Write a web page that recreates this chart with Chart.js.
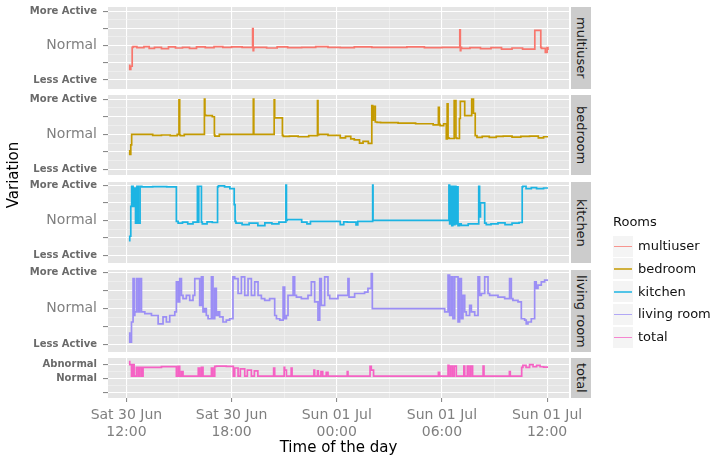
<!DOCTYPE html>
<html>
<head>
<meta charset="utf-8">
<script src="https://cdn.jsdelivr.net/npm/chart.js@4/dist/chart.umd.min.js"></script>
<style>
body{margin:0;background:#fff;font-family:"DejaVu Sans",sans-serif;}
#wrap{position:relative;width:716px;height:457px;overflow:hidden;background:#fff;}
#wrap canvas{position:absolute;left:0;}
.strip{position:absolute;left:571px;width:20px;background:#CCCCCC;display:flex;align-items:center;justify-content:center;}
.strip span{writing-mode:vertical-rl;font-size:13px;color:#1a1a1a;white-space:nowrap;}
.title{position:absolute;font-size:15px;color:#000;text-align:center;line-height:18px;white-space:nowrap;}
.legend-title{position:absolute;left:613px;top:213px;font-size:13px;line-height:18px;color:#111;}
.key{position:absolute;left:613px;width:20px;height:21px;background:#F4F4F4;}
.key i{position:absolute;left:1px;right:1px;top:10px;height:1.6px;}
.lab{position:absolute;left:638px;font-size:13px;line-height:18px;color:#111;white-space:nowrap;}
</style>
</head>
<body>
<div id="wrap"></div>
<script>
// facets, top to bottom
const roomNames = ['multiuser', 'bedroom', 'kitchen', 'living room', 'total'];
const roomColors = ['#F8766D', '#C49A00', '#1CB4E3', '#9B8EF5', '#F562C4'];

// x axis: hours since Sat 30 Jun 00:00
const hourTicks = [12, 15, 18, 21, 24, 27, 30, 33, 36];
const majorHours = [12, 18, 24, 30, 36];
const dayLabels = ['Sat 30 Jun', 'Sat 30 Jun', 'Sun 01 Jul', 'Sun 01 Jul', 'Sun 01 Jul'];
const timeLabels = ['12:00', '18:00', '00:00', '06:00', '12:00'];

// y levels at -1, 0, 1
const roomLevels = ['Less Active', 'Normal', 'More Active'];
const totalLevels = ['', 'Normal', 'Abnormal'];

// [hour, variation]
const multiuser = [[12.19,-0.55],[12.25,-0.69],[12.33,-0.6],[12.38,-0.05],[12.6,-0.03],[13.0,-0.06],[13.3,-0.03],[13.6,-0.08],[14.0,-0.05],[14.4,-0.09],[14.8,-0.04],[15.2,-0.07],[15.6,-0.05],[16.0,-0.08],[16.5,-0.04],[17.0,-0.06],[17.5,-0.03],[18.0,-0.05],[18.6,-0.04],[19.2,-0.05],[19.23,0.49],[19.26,-0.15],[19.3,-0.06],[20.0,-0.05],[20.6,-0.07],[21.2,-0.04],[22.0,-0.06],[22.8,-0.05],[23.5,-0.03],[24.2,-0.05],[25.0,-0.06],[26.0,-0.04],[27.0,-0.05],[28.0,-0.05],[29.0,-0.04],[30.0,-0.06],[31.02,-0.05],[31.05,0.46],[31.08,-0.15],[31.12,-0.05],[31.6,-0.08],[32.2,-0.06],[32.8,-0.09],[33.4,-0.06],[34.0,-0.1],[34.6,-0.07],[35.3,-0.1],[35.34,0.44],[35.64,0.44],[35.68,-0.05],[35.9,-0.08],[36.0,-0.2],[36.05,-0.06],[36.1,-0.1]];

const bedroom = [[12.19,-0.45],[12.25,-0.57],[12.3,-0.3],[12.32,0.0],[13.5,0.0],[14.0,-0.03],[14.5,-0.02],[14.9,-0.04],[15.0,0.0],[15.04,0.98],[15.08,-0.02],[15.3,-0.04],[15.5,0.0],[16.45,0.0],[16.48,1.0],[16.52,0.55],[16.9,0.53],[17.02,0.5],[17.05,-0.02],[17.3,-0.05],[17.6,0.0],[19.24,0.0],[19.27,1.0],[19.3,0.0],[20.43,0.0],[20.46,0.98],[20.5,0.47],[20.9,0.47],[20.95,-0.03],[21.3,-0.06],[21.8,-0.05],[22.4,-0.07],[22.9,-0.04],[22.93,0.96],[22.97,-0.02],[23.5,0.0],[24.2,-0.03],[24.5,-0.1],[24.8,-0.06],[25.0,-0.13],[25.3,-0.16],[25.5,-0.25],[25.8,-0.2],[26.0,-0.26],[26.05,0.82],[26.1,0.4],[26.2,0.8],[26.3,0.35],[26.5,0.34],[27.5,0.33],[28.5,0.32],[29.5,0.3],[29.8,0.27],[29.85,0.77],[29.9,0.28],[30.1,0.25],[30.25,0.3],[30.3,-0.13],[30.35,0.87],[30.4,-0.1],[30.7,-0.12],[30.8,0.96],[30.85,-0.1],[31.0,-0.12],[31.05,0.45],[31.3,0.94],[31.35,0.53],[31.7,0.53],[31.8,1.0],[31.9,0.6],[32.0,-0.04],[32.3,-0.09],[32.7,-0.06],[33.1,-0.09],[33.5,-0.06],[34.0,-0.05],[34.5,-0.08],[35.0,-0.06],[35.5,-0.05],[35.8,-0.1],[36.05,-0.07]];

const kitchen = [[12.19,-0.6],[12.25,-0.45],[12.3,0.4],[12.38,0.97],[12.45,0.4],[12.52,0.92],[12.6,-0.08],[12.68,0.97],[12.78,-0.08],[12.88,0.97],[13.5,0.95],[14.3,0.96],[14.85,0.95],[14.95,-0.03],[15.2,-0.08],[15.5,-0.05],[15.8,-0.1],[16.05,-0.05],[16.09,0.97],[16.13,-0.05],[16.28,0.97],[16.33,-0.05],[16.6,-0.1],[16.9,-0.04],[17.2,-0.06],[17.25,0.95],[17.6,0.98],[17.9,0.95],[18.15,0.9],[18.2,0.45],[18.25,-0.03],[18.6,-0.08],[19.0,-0.12],[19.5,-0.08],[19.9,-0.15],[20.3,-0.07],[20.7,-0.1],[21.1,-0.05],[21.13,1.0],[21.17,0.0],[22.0,0.02],[22.3,-0.05],[22.5,-0.1],[22.7,-0.03],[23.5,-0.03],[24.2,-0.03],[24.4,-0.12],[24.6,-0.04],[25.1,-0.05],[25.2,-0.13],[25.4,-0.03],[26.05,-0.03],[26.07,1.0],[26.1,0.0],[28.0,0.0],[30.4,0.0],[30.44,1.0],[30.5,-0.1],[30.56,0.97],[30.62,-0.15],[30.68,0.97],[30.74,-0.12],[30.8,0.97],[30.86,-0.1],[30.92,0.95],[31.0,-0.15],[31.1,-0.1],[31.5,-0.14],[32.1,-0.1],[32.15,0.97],[32.2,0.1],[32.44,0.5],[32.53,-0.08],[32.8,-0.12],[33.2,-0.1],[33.6,-0.07],[34.0,-0.12],[34.4,-0.08],[34.58,-0.06],[34.62,0.95],[34.8,0.97],[35.1,0.9],[35.4,0.93],[35.8,0.9],[36.05,0.92]];

const livingRoom = [[12.19,-0.65],[12.29,-0.93],[12.38,-0.37],[12.44,0.83],[12.48,-0.19],[12.57,-0.09],[12.67,0.83],[12.76,-0.09],[12.86,0.83],[12.95,-0.09],[13.05,-0.09],[13.43,-0.14],[13.81,-0.19],[14.09,-0.42],[14.28,-0.23],[14.47,-0.37],[14.76,-0.19],[14.85,-0.09],[14.95,0.74],[15.04,0.19],[15.14,0.83],[15.23,0.37],[15.42,0.28],[15.61,0.37],[15.8,0.23],[15.9,0.37],[16.18,0.83],[16.28,0.09],[16.37,0.88],[16.47,-0.09],[16.56,0.0],[16.66,-0.19],[16.85,-0.28],[16.94,0.88],[17.04,-0.28],[17.13,0.56],[17.23,-0.19],[17.32,-0.09],[17.51,-0.23],[17.7,-0.37],[17.89,-0.32],[18.08,-0.28],[18.18,0.88],[18.37,0.83],[18.56,0.42],[18.75,0.88],[18.94,0.37],[19.13,0.83],[19.32,0.37],[19.51,0.74],[19.7,0.37],[19.89,0.28],[20.17,0.23],[20.46,0.28],[20.56,-0.19],[20.75,-0.28],[20.94,-0.32],[21.03,0.6],[21.13,-0.28],[21.22,-0.19],[21.32,0.37],[21.51,0.37],[21.6,0.88],[21.7,0.37],[21.98,0.32],[22.36,0.28],[22.55,0.37],[22.74,0.74],[22.93,0.19],[23.03,-0.32],[23.12,0.83],[23.31,0.09],[23.5,0.88],[23.6,0.37],[23.79,0.28],[24.07,0.28],[24.64,0.37],[24.7,0.83],[24.74,0.32],[25.02,0.32],[25.59,0.42],[25.78,0.46],[25.97,0.56],[26.03,0.97],[26.13,0.0],[30.16,0.0],[30.25,-0.09],[30.35,-0.09],[30.44,0.93],[30.54,-0.19],[30.63,0.88],[30.73,-0.28],[30.92,0.88],[31.01,-0.37],[31.11,0.83],[31.2,-0.28],[31.3,0.37],[31.39,-0.09],[31.58,-0.19],[31.68,0.09],[31.87,-0.09],[32.06,-0.19],[32.15,0.88],[32.25,0.37],[32.44,0.42],[32.63,0.88],[32.72,0.42],[33.2,0.37],[33.58,0.32],[33.86,0.28],[33.96,0.83],[34.05,0.28],[34.34,0.23],[34.53,0.19],[34.72,-0.28],[34.81,-0.32],[34.91,-0.42],[35.1,-0.37],[35.29,-0.28],[35.38,0.74],[35.48,0.56],[35.67,0.65],[35.86,0.74],[36.05,0.79]];

const total = [[12.19,1.29],[12.29,1.0],[12.38,0.17],[12.44,1.0],[12.57,0.17],[12.67,0.8],[12.76,0.17],[12.86,0.8],[12.95,0.17],[13.05,0.81],[14.0,0.8],[14.85,0.86],[14.95,0.17],[15.04,0.88],[15.14,0.17],[15.23,0.5],[15.3,0.17],[16.1,0.17],[16.18,0.75],[16.28,0.17],[16.37,0.8],[16.47,0.17],[16.85,0.17],[16.94,0.75],[17.04,0.17],[17.13,0.88],[17.7,0.9],[18.1,0.88],[18.18,0.17],[18.37,0.76],[18.5,0.17],[18.75,0.7],[18.9,0.17],[19.13,0.6],[19.3,0.17],[19.5,0.55],[19.6,0.17],[20.4,0.17],[20.46,0.76],[20.52,0.17],[21.0,0.17],[21.03,0.8],[21.13,0.6],[21.2,0.17],[21.4,0.17],[21.45,0.76],[21.5,0.17],[22.7,0.17],[22.74,0.6],[22.9,0.17],[22.95,0.55],[23.1,0.17],[23.2,0.5],[23.4,0.17],[23.5,0.45],[23.6,0.17],[24.6,0.17],[24.64,0.5],[24.7,0.17],[25.9,0.17],[25.97,0.88],[26.1,0.6],[26.13,0.17],[29.8,0.17],[29.87,0.45],[29.93,0.17],[30.35,0.17],[30.4,0.95],[30.5,0.17],[30.6,0.9],[30.7,0.17],[30.82,0.9],[30.95,0.17],[31.25,0.17],[31.3,0.9],[31.45,0.17],[31.55,0.9],[31.65,0.17],[31.75,0.9],[31.85,0.17],[32.35,0.17],[32.4,0.9],[32.5,0.17],[33.85,0.17],[33.9,0.5],[33.95,0.17],[34.55,0.17],[34.62,0.8],[34.8,0.95],[35.0,0.8],[35.2,1.0],[35.4,0.85],[35.6,0.95],[35.8,0.85],[36.05,0.83]];

const series = [multiuser, bedroom, kitchen, livingRoom, total];

// panel geometry (px) and y limits
const FONT = '"DejaVu Sans", sans-serif';
const PANEL_LEFT = 108, PANEL_RIGHT = 569, CANVAS_W = 600, PAD = 12, X_AXIS_H = 46;
const X_MIN = 10.95, X_MAX = 37.25;
const panels = [
    {top: 7,   bottom: 89,  min: -1.26, max: 1.12},
    {top: 95,  bottom: 175, min: -1.16, max: 1.12},
    {top: 182, bottom: 263, min: -1.21, max: 1.09},
    {top: 270, bottom: 352, min: -1.2,  max: 1.07},
    {top: 358, bottom: 398, min: -1.4,  max: 1.48}
];

const wrap = document.getElementById('wrap');

const panelBg = {
    id: 'panelBg',
    beforeDraw(chart) {
        const a = chart.chartArea, c = chart.ctx;
        c.save();
        c.fillStyle = '#E5E5E5';
        c.fillRect(a.left, a.top, a.right - a.left, a.bottom - a.top);
        c.restore();
    }
};

function near(v, step) { return Math.abs(v / step - Math.round(v / step)) < 1e-6; }

function makePanel(i) {
    const P = panels[i];
    const last = i === series.length - 1;
    const h = P.bottom - P.top;
    const cv = document.createElement('canvas');
    cv.width = CANVAS_W;
    cv.height = PAD + h + (last ? X_AXIS_H : PAD);
    cv.style.top = (P.top - PAD) + 'px';
    wrap.appendChild(cv);

    const yTicks = last ? [-1, -0.5, 0, 0.5, 1] : [-1, -0.75, -0.5, -0.25, 0, 0.25, 0.5, 0.75, 1];
    const step = last ? 1 : 0.5;
    const levels = last ? totalLevels : roomLevels;

    new Chart(cv, {
        type: 'line',
        data: {datasets: [{
            label: roomNames[i],
            data: series[i].map(p => ({x: p[0], y: p[1]})),
            borderColor: roomColors[i],
            borderWidth: 1.7,
            pointRadius: 0,
            stepped: 'after',
            fill: false
        }]},
        options: {
            responsive: false,
            animation: false,
            events: [],
            layout: {padding: {top: PAD, bottom: last ? 0 : PAD, left: 0, right: CANVAS_W - PANEL_RIGHT}},
            plugins: {legend: {display: false}, tooltip: {enabled: false}},
            scales: {
                x: {
                    type: 'linear', min: X_MIN, max: X_MAX,
                    afterBuildTicks: s => { s.ticks = hourTicks.map(v => ({value: v})); },
                    afterFit: s => { s.height = last ? X_AXIS_H : 0; },
                    border: {display: false},
                    grid: {
                        color: c => near(c.tick.value, 6) ? '#FFFFFF' : '#F2F2F2',
                        lineWidth: c => near(c.tick.value, 6) ? 1.1 : 0.7,
                        drawTicks: last, tickLength: 4,
                        tickColor: c => near(c.tick.value, 6) ? '#8a8a8a' : 'rgba(0,0,0,0)'
                    },
                    ticks: {
                        display: last, autoSkip: false, maxRotation: 0, padding: 5,
                        color: '#7f7f7f', font: {family: FONT, size: 14},
                        callback: v => { const k = majorHours.indexOf(v); return k < 0 ? '' : [dayLabels[k], timeLabels[k]]; }
                    }
                },
                y: {
                    type: 'linear', min: P.min, max: P.max,
                    afterBuildTicks: s => { s.ticks = yTicks.map(v => ({value: v})); },
                    afterFit: s => { s.width = PANEL_LEFT; },
                    border: {display: false},
                    grid: {
                        color: c => near(c.tick.value, step) ? '#FFFFFF' : '#F2F2F2',
                        lineWidth: c => near(c.tick.value, step) ? 1.1 : 0.7,
                        tickLength: 5,
                        tickColor: c => near(c.tick.value, step) ? '#8a8a8a' : 'rgba(0,0,0,0)'
                    },
                    ticks: {
                        autoSkip: false, padding: 6,
                        callback: v => near(v, 1) ? levels[Math.round(v) + 1] : '',
                        font: c => (!last && c.tick && c.tick.value === 0)
                            ? {family: FONT, size: 14}
                            : {family: FONT, size: 10, weight: 'bold'},
                        color: c => (!last && c.tick && c.tick.value === 0) ? '#808080' : '#6a6a6a'
                    }
                }
            }
        },
        plugins: [panelBg]
    });

    const strip = document.createElement('div');
    strip.className = 'strip';
    strip.style.top = P.top + 'px';
    strip.style.height = h + 'px';
    strip.innerHTML = '<span>' + roomNames[i] + '</span>';
    wrap.appendChild(strip);
}

series.forEach((s, i) => makePanel(i));

// axis titles
const yTitle = document.createElement('div');
yTitle.className = 'title';
yTitle.textContent = 'Variation';
Object.assign(yTitle.style, {left: '-87px', top: '166px', width: '200px', transform: 'rotate(-90deg)'});
wrap.appendChild(yTitle);

const xTitle = document.createElement('div');
xTitle.className = 'title';
xTitle.textContent = 'Time of the day';
Object.assign(xTitle.style, {left: PANEL_LEFT + 'px', top: '438px', width: (PANEL_RIGHT - PANEL_LEFT) + 'px'});
wrap.appendChild(xTitle);

// legend
const lt = document.createElement('div');
lt.className = 'legend-title';
lt.textContent = 'Rooms';
wrap.appendChild(lt);
roomNames.forEach((name, i) => {
    const cy = 246 + i * 22.8;
    const key = document.createElement('div');
    key.className = 'key';
    key.style.top = (cy - 10.5) + 'px';
    key.innerHTML = '<i style="background:' + roomColors[i] + ';opacity:0.75"></i>';
    wrap.appendChild(key);
    const lab = document.createElement('div');
    lab.className = 'lab';
    lab.style.top = (cy - 9) + 'px';
    lab.textContent = name;
    wrap.appendChild(lab);
});
</script>
</body>
</html>
